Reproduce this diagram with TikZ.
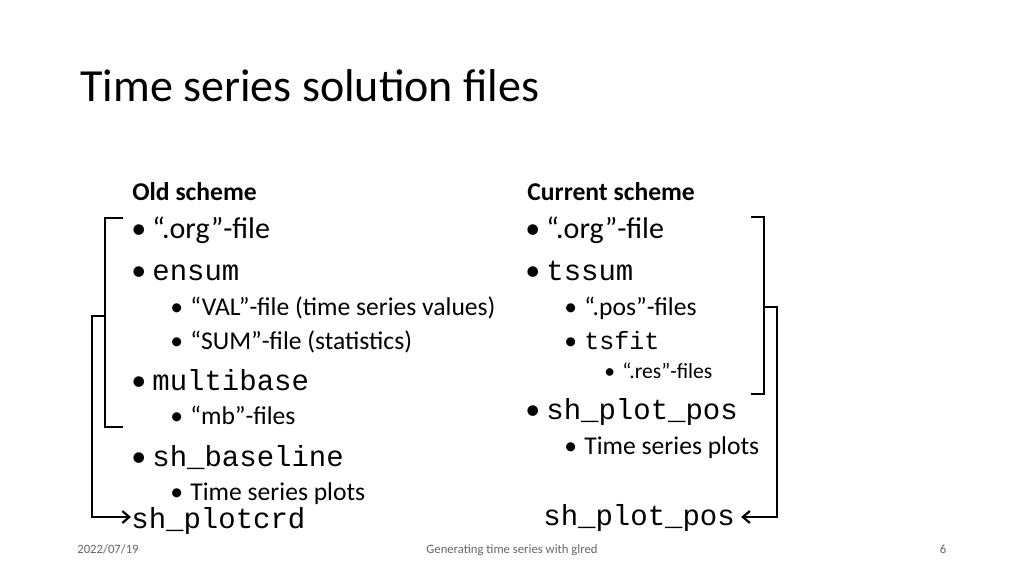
\documentclass[tikz,border=0pt]{standalone}
\usepackage{fontspec}
\setmainfont{Carlito}
\setmonofont{Liberation Mono}
\usetikzlibrary{arrows.meta}
\tikzset{every picture/.style={line width=0.75pt}}
\tikzset{
  txt/.style={anchor=base west,inner sep=0pt,font=\fontsize{30}{34}\selectfont},
  subtxt/.style={anchor=base west,inner sep=0pt,font=\fontsize{25.6}{30}\selectfont},
  code/.style={anchor=base west,inner sep=0pt,font=\fontsize{29}{32}\ttfamily},
  subcode/.style={anchor=base west,inner sep=0pt,font=\fontsize{25}{28}\ttfamily},
  bul/.style={anchor=base west,inner sep=0pt},
  bracket/.style={line width=2.2pt,line join=miter},
  foot/.style={inner sep=0pt,anchor=base,font=\fontsize{12.7}{15}\selectfont,text=black!60},
}
\begin{document}
\begin{tikzpicture}[x=1pt,y=1pt,yscale=-1,xscale=1]
\useasboundingbox (0,0) rectangle (1024,576);

% Title
\draw (80,101) node [anchor=base west,inner sep=0pt,font=\fontsize{46}{54}\selectfont] (title) {Time series solution files};

% Old scheme
\draw (132,200) node [subtxt,font=\fontsize{25.6}{30}\bfseries] (oldhead) {Old scheme};
\draw (131,238) node [bul,txt] (b1) {•};
\draw (152,238) node [txt] (oldorg) {“.org”-file};
\draw (131,280) node [bul,txt] (b2) {•};
\draw (152,280) node [code] (ensum) {ensum};
\draw (170,315) node [bul,subtxt] (b3) {•};
\draw (190,315) node [subtxt] (val) {“VAL”-file (time series values)};
\draw (170,349) node [bul,subtxt] (b4) {•};
\draw (190,349) node [subtxt] (sum) {“SUM”-file (statistics)};
\draw (131,390) node [bul,txt] (b5) {•};
\draw (152,390) node [code] (multibase) {multibase};
\draw (170,424) node [bul,subtxt] (b6) {•};
\draw (190,424) node [subtxt] (mb) {“mb”-files};
\draw (131,466) node [bul,txt] (b7) {•};
\draw (152,466) node [code] (baseline) {sh\_baseline};
\draw (170,500) node [bul,subtxt] (b8) {•};
\draw (190,500) node [subtxt] (oldplots) {Time series plots};
\draw (131,528) node [code] (plotcrd) {sh\_plotcrd};

% Current scheme
\draw (527,200) node [subtxt,font=\fontsize{25.6}{30}\bfseries] (curhead) {Current scheme};
\draw (525,238) node [bul,txt] (c1) {•};
\draw (546,238) node [txt] (curorg) {“.org”-file};
\draw (525,280) node [bul,txt] (c2) {•};
\draw (546,280) node [code] (tssum) {tssum};
\draw (564,315) node [bul,subtxt] (c3) {•};
\draw (584,315) node [subtxt] (pos) {“.pos”-files};
\draw (564,349) node [bul,subtxt] (c4) {•};
\draw (584,349) node [subcode] (tsfit) {tsfit};
\draw (604,378) node [bul,subtxt,font=\fontsize{21.6}{25}\selectfont] (c5) {•};
\draw (622,378) node [subtxt,font=\fontsize{21.6}{25}\selectfont] (res) {“.res”-files};
\draw (525,419) node [bul,txt] (c6) {•};
\draw (546,419) node [code] (plotpos) {sh\_plot\_pos};
\draw (564,454) node [bul,subtxt] (c7) {•};
\draw (584,454) node [subtxt] (curplots) {Time series plots};
\draw (543,525) node [code] (plotposend) {sh\_plot\_pos};

% Brackets
\coordinate (ltop) at (123,218);
\coordinate (lbot) at (123,427);
\coordinate (lbr) at (105,316);
\draw [bracket] (ltop) -- (105,218) -- (105,427) -- (lbot);
\draw [bracket,-{Straight Barb[length=7pt,width=12pt]}] (lbr) -- (92,316) -- (92,517) -- (plotcrd.west |- 0,517);
\coordinate (rtop) at (751,217);
\coordinate (rbot) at (751,394);
\coordinate (rbr) at (764,307);
\draw [bracket] (rtop) -- (764,217) -- (764,394) -- (rbot);
\draw [bracket,-{Straight Barb[length=7pt,width=12pt]}] (rbr) -- (777,307) -- (777,517) -- ([xshift=6pt]plotposend.east |- 0,517);

% Footer
\draw (108,553) node [foot] (date) {2022/07/19};
\draw (512,553) node [foot] (foottitle) {Generating time series with glred};
\draw (943,553) node [foot] (page) {6};
\end{tikzpicture}
\end{document}
